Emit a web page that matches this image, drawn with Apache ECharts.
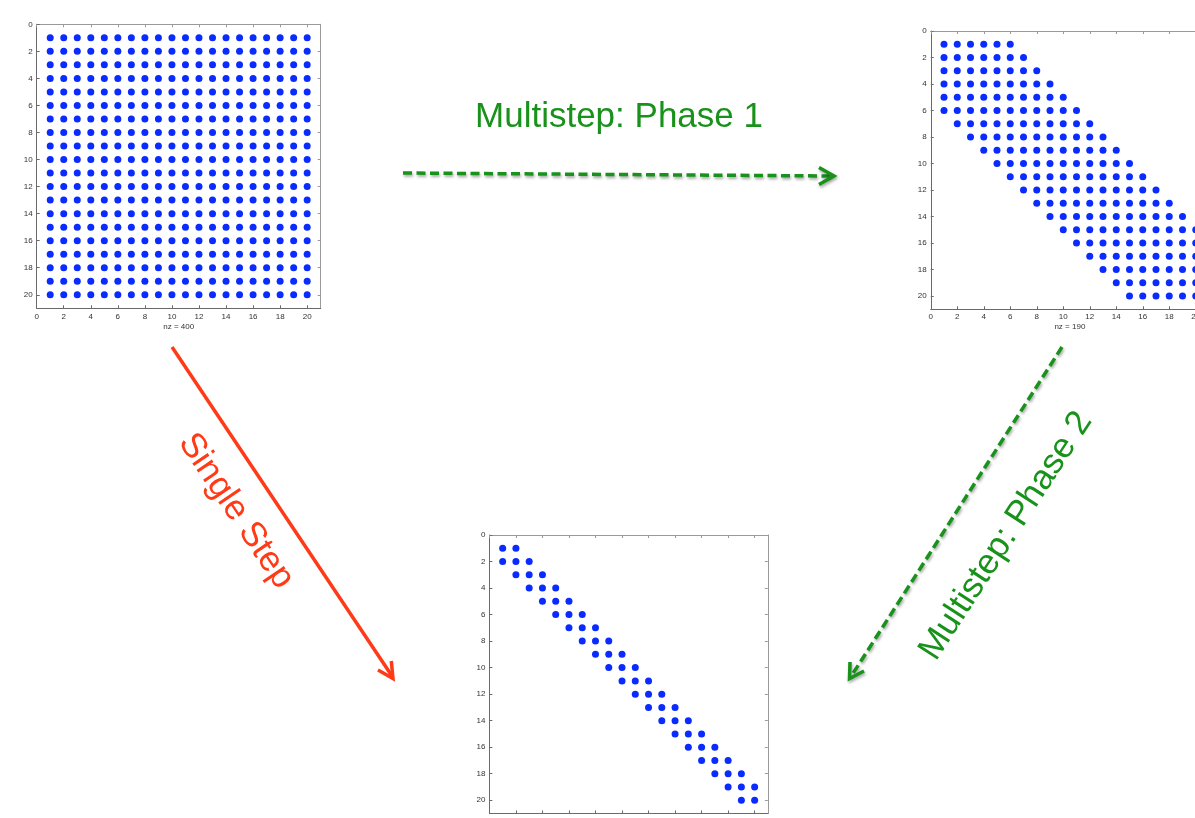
<!DOCTYPE html>
<html>
<head>
<meta charset="utf-8">
<style>
  html, body { margin: 0; padding: 0; background: #ffffff; overflow: hidden; width: 1195px; height: 818px; }
  /* drawing surface runs past the window so the right and bottom panels are clipped at the edge */
  #chart { width: 1240px; height: 860px; }
</style>
<script src="https://cdn.jsdelivr.net/npm/echarts@6/dist/echarts.min.js"></script>
</head>
<body>
<div id="chart"></div>
<script>
// Row indices of the 20x20 matrices
const rows = [1, 2, 3, 4, 5, 6, 7, 8, 9, 10, 11, 12, 13, 14, 15, 16, 17, 18, 19, 20];

// Nonzero column range of each row: full matrix
const fullFirst = [1, 1, 1, 1, 1, 1, 1, 1, 1, 1, 1, 1, 1, 1, 1, 1, 1, 1, 1, 1];
const fullLast  = [20, 20, 20, 20, 20, 20, 20, 20, 20, 20, 20, 20, 20, 20, 20, 20, 20, 20, 20, 20];

// Band matrix after phase 1 (bandwidth 5)
const bandFirst = [1, 1, 1, 1, 1, 1, 2, 3, 4, 5, 6, 7, 8, 9, 10, 11, 12, 13, 14, 15];
const bandLast  = [6, 7, 8, 9, 10, 11, 12, 13, 14, 15, 16, 17, 18, 19, 20, 20, 20, 20, 20, 20];

// Tridiagonal matrix after phase 2
const triFirst = [1, 1, 2, 3, 4, 5, 6, 7, 8, 9, 10, 11, 12, 13, 14, 15, 16, 17, 18, 19];
const triLast  = [2, 3, 4, 5, 6, 7, 8, 9, 10, 11, 12, 13, 14, 15, 16, 17, 18, 19, 20, 20];

// Axis tick labels
const tickValues = [0, 2, 4, 6, 8, 10, 12, 14, 16, 18, 20];

// Captions
const phase1Text = 'Multistep: Phase 1';
const phase2Text = 'Multistep: Phase 2';
const singleText = 'Single Step';

function nonzeros(first, last) {
  const pts = [];
  rows.forEach((r, i) => {
    for (let c = first[i]; c <= last[i]; c++) pts.push([c, r]);
  });
  return pts;
}

const panels = [
  { pts: nonzeros(fullFirst, fullLast), grid: { left: 36.7, top: 24.3, width: 284, height: 284 } },
  { pts: nonzeros(bandFirst, bandLast), grid: { left: 930.75, top: 31, width: 278.25, height: 278.25 } },
  { pts: nonzeros(triFirst, triLast), grid: { left: 489.4, top: 535, width: 278.5, height: 278.5 } }
];

const FONT = '"Liberation Sans", Helvetica, Arial, sans-serif';
const labelStyle = { fontSize: 8, color: '#333', fontFamily: FONT };

const grids = [], xAxes = [], yAxes = [], series = [];
panels.forEach((p, g) => {
  grids.push(Object.assign({ containLabel: false }, p.grid));
  const common = {
    gridIndex: g, type: 'value', min: 0, max: 21,
    splitLine: { show: false }
  };
  // bottom / left: labelled
  xAxes.push(Object.assign({}, common, {
    position: 'bottom',
    axisLine: { show: true, onZero: false, lineStyle: { color: '#6a6a6a', width: 1 } },
    axisTick: { show: true, inside: true, length: 3, customValues: tickValues, lineStyle: { color: '#6a6a6a' } },
    axisLabel: Object.assign({ show: true, margin: 4, customValues: tickValues }, labelStyle),
    name: 'nz = ' + p.pts.length, nameLocation: 'middle', nameGap: 14,
    nameTextStyle: labelStyle
  }));
  // top: ticks only
  xAxes.push(Object.assign({}, common, {
    position: 'top',
    axisLine: { show: true, onZero: false, lineStyle: { color: '#9a9a9a', width: 1 } },
    axisTick: { show: true, inside: true, length: 3, customValues: tickValues, lineStyle: { color: '#9a9a9a' } },
    axisLabel: { show: false }
  }));
  yAxes.push(Object.assign({}, common, {
    position: 'left', inverse: true,
    axisLine: { show: true, onZero: false, lineStyle: { color: '#6a6a6a', width: 1 } },
    axisTick: { show: true, inside: true, length: 3, customValues: tickValues, lineStyle: { color: '#6a6a6a' } },
    axisLabel: Object.assign({ show: true, margin: 4, customValues: tickValues }, labelStyle)
  }));
  yAxes.push(Object.assign({}, common, {
    position: 'right', inverse: true,
    axisLine: { show: true, onZero: false, lineStyle: { color: '#9a9a9a', width: 1 } },
    axisTick: { show: true, inside: true, length: 3, customValues: tickValues, lineStyle: { color: '#9a9a9a' } },
    axisLabel: { show: false }
  }));
  series.push({
    type: 'scatter',
    xAxisIndex: 2 * g, yAxisIndex: 2 * g,
    symbol: 'circle', symbolSize: 7,
    itemStyle: { color: '#0a2bff', opacity: 1 },
    data: p.pts,
    silent: true
  });
});

const GREEN = '#18921a';
const RED = '#ff3a17';
const greenShadow = { shadowBlur: 3, shadowColor: 'rgba(0,0,0,0.35)', shadowOffsetX: 1, shadowOffsetY: 2 };

function arrowLine(x1, y1, x2, y2, color, dashed, shadow) {
  return {
    type: 'line', silent: true,
    shape: { x1, y1, x2, y2 },
    style: Object.assign({ stroke: color, lineWidth: 3.5, lineDash: dashed ? [9, 4.5] : null }, shadow || {})
  };
}
function arrowHead(points, color, shadow) {
  return {
    type: 'polyline', silent: true,
    shape: { points },
    style: Object.assign({ stroke: color, lineWidth: 3.5, lineJoin: 'miter', fill: null }, shadow || {})
  };
}
function caption(text, x, y, rot, color) {
  return {
    type: 'text', silent: true, x, y, rotation: rot,
    style: {
      text, fill: color, font: '35px ' + FONT,
      align: 'center', verticalAlign: 'middle'
    }
  };
}

const graphics = [
  // phase 1: full -> band
  arrowLine(403, 173, 830, 176, GREEN, true, greenShadow),
  arrowHead([[819, 167.5], [834, 176], [819, 184.5]], GREEN, greenShadow),
  caption(phase1Text, 619, 117, 0, GREEN),
  // phase 2: band -> tridiagonal
  arrowLine(1062, 347, 852, 675, GREEN, true, greenShadow),
  arrowHead([[850, 662], [849.5, 678.5], [864, 671]], GREEN, greenShadow),
  caption(phase2Text, 1006, 536, 57 * Math.PI / 180, GREEN),
  // single step: full -> tridiagonal
  arrowLine(172, 347, 392, 676, RED, false),
  arrowHead([[378, 670], [393, 678.5], [391.3, 661]], RED),
  caption(singleText, 236, 511, -56 * Math.PI / 180, RED)
];

const chart = echarts.init(document.getElementById('chart'), null, { renderer: 'canvas' });
chart.setOption({
  animation: false,
  backgroundColor: '#ffffff',
  grid: grids,
  xAxis: xAxes,
  yAxis: yAxes,
  series: series,
  graphic: graphics
});
</script>
</body>
</html>
